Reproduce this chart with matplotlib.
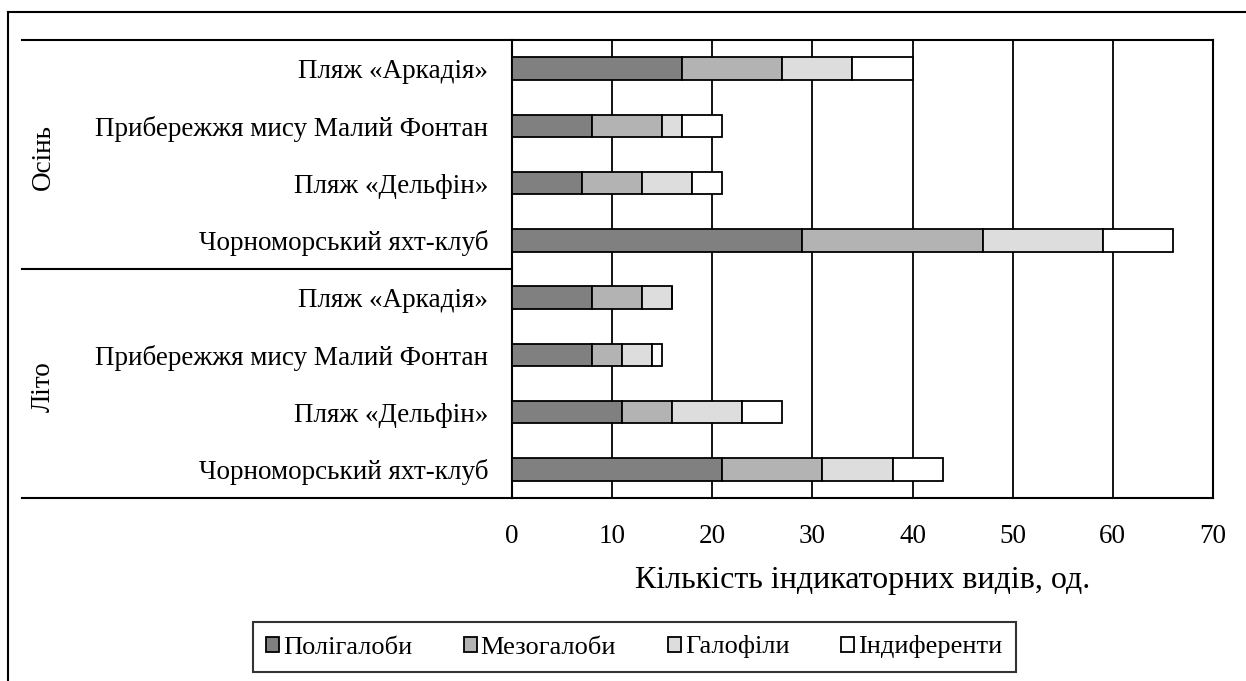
import matplotlib
matplotlib.use("Agg")
import matplotlib.pyplot as plt
from matplotlib.lines import Line2D
from matplotlib.patches import Patch

plt.rcParams['font.family'] = ['Liberation Serif', 'DejaVu Serif']

# Data (bottom to top as drawn)
sites = ["Чорноморський яхт-клуб", "Пляж «Дельфін»", "Прибережжя мису Малий Фонтан", "Пляж «Аркадія»"]
seasons = ["Літо", "Осінь"]
categories = sites + sites
series_names = ["Полігалоби", "Мезогалоби", "Галофіли", "Індиференти"]
# Літо: yacht, delfin, mys, arkadia ; Осінь: yacht, delfin, mys, arkadia
poly = [21, 11, 8, 8, 29, 7, 8, 17]
meso = [10, 5, 3, 5, 18, 6, 7, 10]
halo = [7, 7, 3, 3, 12, 5, 2, 7]
indif = [5, 4, 1, 0, 7, 3, 4, 6]
series = [poly, meso, halo, indif]
colors = ["#808080", "#b3b3b3", "#dddddd", "#ffffff"]
xticks = [0, 10, 20, 30, 40, 50, 60, 70]
xlabel = "Кількість індикаторних видів, од."

W, H = 1246, 681
fig = plt.figure(figsize=(W / 100, H / 100), dpi=100)
ax = fig.add_axes([512 / W, 1 - 498 / H, (1213 - 512) / W, (498 - 40) / H])

y = list(range(len(categories)))
left = [0] * len(categories)
for vals, col, name in zip(series, colors, series_names):
    ax.barh(y, vals, left=left, height=0.39, color=col, edgecolor="black",
            linewidth=1.3, label=name, zorder=3)
    left = [l + v for l, v in zip(left, vals)]

ax.set_xlim(0, 70)
ax.set_ylim(-0.5, len(categories) - 0.5)
ax.set_xticks(xticks)
ax.set_xticklabels([str(t) for t in xticks], fontsize=19.5)
ax.tick_params(axis='x', length=0, pad=19)
ax.set_yticks(y)
ax.set_yticklabels(categories, fontsize=19.5)
ax.tick_params(axis='y', length=0, pad=17)
ax.grid(axis='x', color='black', linewidth=1.3, zorder=0)
for s in ax.spines.values():
    s.set_linewidth(1.5)
    s.set_color('black')
ax.set_xlabel(xlabel, fontsize=23, labelpad=12)

# multi-level category axis lines
trans = ax.get_yaxis_transform()
x0 = (22 - 512) / (1213 - 512)
for yy in [-0.5, 3.5, 7.5]:
    ax.add_line(Line2D([x0, 0], [yy, yy], transform=trans, color='black',
                       linewidth=1.5, clip_on=False))
for i, s in enumerate(seasons):
    ax.text((43 - 512) / (1213 - 512), 4 * i + 1.45, s, transform=trans,
            rotation=90, ha='center', va='center', fontsize=19.5)

# outer frame
fig.add_artist(Line2D([8 / W, 1], [1 - 12 / H, 1 - 12 / H], transform=fig.transFigure,
                      color='black', linewidth=1.5))
fig.add_artist(Line2D([8 / W, 8 / W], [0, 1 - 12 / H], transform=fig.transFigure,
                      color='black', linewidth=1.5))

handles = [Patch(facecolor=c, edgecolor='black', linewidth=1.3) for c in colors]
leg = fig.legend(handles, series_names, loc='center', bbox_to_anchor=(634 / W, 1 - 647 / H),
                 ncol=4, fontsize=19, frameon=True, fancybox=False, edgecolor='black',
                 handlelength=0.5, handleheight=0.5, handletextpad=0.15, columnspacing=1.95,
                 borderpad=0.5)
leg.get_frame().set_linewidth(1.5)

fig.savefig("out.png", dpi=100)
